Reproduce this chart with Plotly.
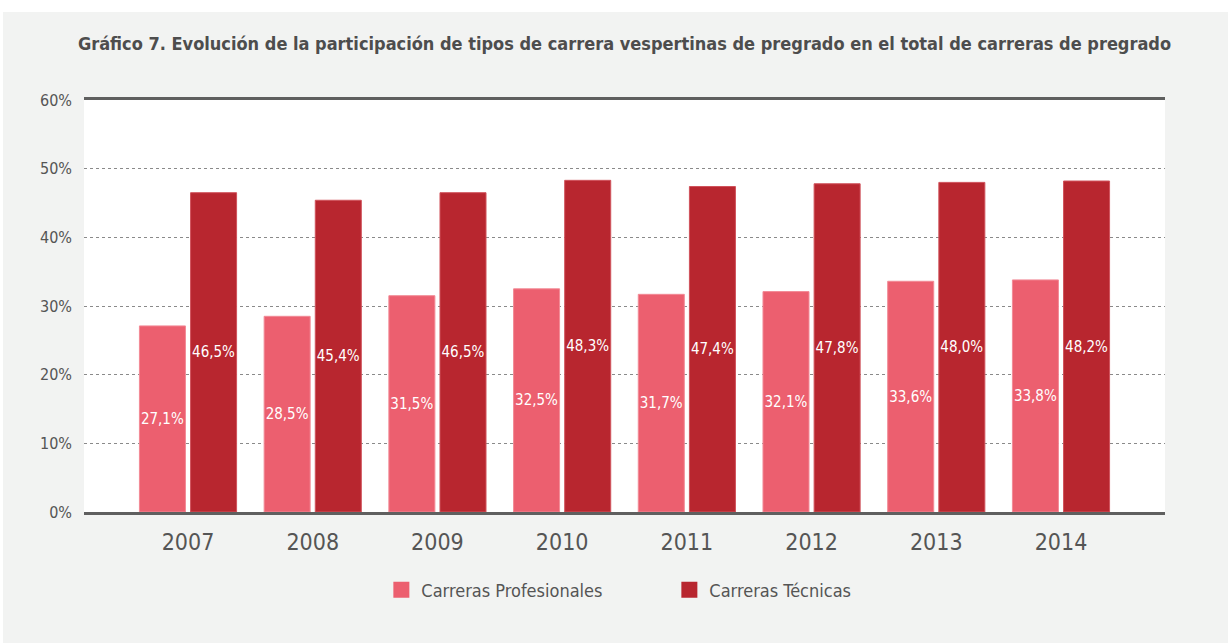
import plotly.graph_objects as go

years = ["2007", "2008", "2009", "2010", "2011", "2012", "2013", "2014"]
profesionales = [27.1, 28.5, 31.5, 32.5, 31.7, 32.1, 33.6, 33.8]
tecnicas = [46.5, 45.4, 46.5, 48.3, 47.4, 47.8, 48.0, 48.2]
y_ticks = [0, 10, 20, 30, 40, 50, 60]
y_ticklabels = ["0%", "10%", "20%", "30%", "40%", "50%", "60%"]

title = "Gráfico 7. Evolución de la participación de tipos de carrera vespertinas de pregrado en el total de carreras de pregrado"
name_p = "Carreras Profesionales"
name_t = "Carreras Técnicas"

PINK = "#EC5F6F"
RED = "#B8262F"
GREY_TXT = "#555555"
BG = "#F2F3F2"
FONT = "DejaVu Sans Condensed, Liberation Sans Narrow, sans-serif"

W, H = 1228, 643
L, R, T, B = 84, 63, 100, 131
pw, ph = W - L - R, H - T - B

def px_x(x):
    return (x - L) / pw

def px_y(y):
    return (H - B - y) / ph

fig = go.Figure()
fig.add_trace(go.Bar(
    x=years, y=profesionales, name=name_p, marker=dict(color=PINK, line=dict(color="#F28A96", width=1)),
    texttemplate="%{y:.1f}%", textposition="inside", insidetextanchor="middle",
    textangle=0, constraintext="none",
    textfont=dict(color="white", size=15, family=FONT), showlegend=False, hoverinfo="skip",
))
fig.add_trace(go.Bar(
    x=years, y=tecnicas, name=name_t, marker=dict(color=RED, line=dict(color="#D0525B", width=1)),
    texttemplate="%{y:.1f}%", textposition="inside", insidetextanchor="middle",
    textangle=0, constraintext="none",
    textfont=dict(color="white", size=15, family=FONT), showlegend=False, hoverinfo="skip",
))
# legend entries
for nm, col in [(name_p, PINK), (name_t, RED)]:
    fig.add_trace(go.Scatter(
        x=[None], y=[None], mode="markers", name=nm,
        marker=dict(symbol="square", size=16, color=col), showlegend=True,
    ))

shapes = [
    dict(type="rect", xref="paper", yref="paper", layer="below",
         x0=px_x(3), x1=px_x(W + 5), y0=px_y(H + 5), y1=px_y(12),
         fillcolor=BG, line=dict(width=0)),
    dict(type="rect", xref="paper", yref="paper", layer="below",
         x0=0, x1=1, y0=0, y1=1, fillcolor="white", line=dict(width=0)),
]

fig.update_layout(
    width=W, height=H,
    margin=dict(l=L, r=R, t=T, b=B, autoexpand=False),
    paper_bgcolor="white", plot_bgcolor="rgba(0,0,0,0)",
    separators=",.",
    barmode="group", bargap=0.18, bargroupgap=0.1,
    font=dict(family=FONT, color=GREY_TXT),
    title=dict(text="<b>" + title + "</b>", x=0.5, xref="paper", xanchor="center",
               y=1 - 44 / H, yanchor="middle", yref="container",
               font=dict(size=18, color="#4D4D4D", family=FONT)),
    xaxis=dict(type="category", range=[-0.834, 7.834], showgrid=False,
               showline=True, linecolor="#5F5F5F", linewidth=3, mirror=True,
               ticks="", tickfont=dict(size=23, color=GREY_TXT), ticklabelstandoff=7),
    yaxis=dict(range=[0, 60], tickvals=y_ticks, ticktext=y_ticklabels,
               showgrid=True, gridcolor="#8A8A8A", griddash="dot", gridwidth=1,
               zeroline=False, showline=False, ticks="",
               tickfont=dict(size=16, color=GREY_TXT), ticklabelstandoff=11),
    legend=dict(orientation="h", x=0.5415, xanchor="center", y=px_y(590), yanchor="middle",
                font=dict(size=18, color=GREY_TXT), bgcolor="rgba(0,0,0,0)",
                entrywidth=243, traceorder="normal"),
    shapes=shapes,
)

fig.write_html("out.html", config={"displayModeBar": False},
               post_script="document.body.style.margin='0';document.body.style.overflow='hidden';")
